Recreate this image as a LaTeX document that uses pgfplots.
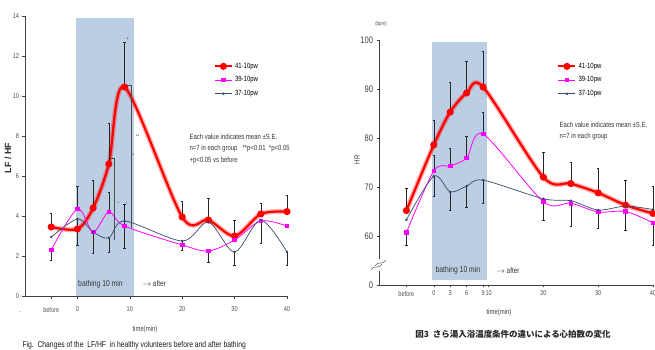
\documentclass[border=0pt]{standalone}
\usepackage{fontspec}
\usepackage{pgfplots}
\pgfplotsset{compat=1.18}
\setmainfont{Liberation Sans}
\newfontfamily\narrow[FakeStretch=0.8]{Liberation Sans}
\newfontfamily\cjk{Noto Sans CJK JP}
\definecolor{shadeblue}{RGB}{188,206,228}
\definecolor{grayblue}{RGB}{55,75,105}
\definecolor{mag}{RGB}{255,0,255}
\pgfplotsset{
  base/.style={scale only axis, clip=false,
    axis x line*=bottom, axis y line*=left,
    axis line style={-, line width=0.6pt, black!75},
    tick style={black!75, line width=0.5pt}, major tick length=2.5bp, tick align=outside,
    /pgf/number format/assume math mode=true,
    tick label style={font=\narrow\fontsize{7}{8}\selectfont, black!70},
    legend style={draw=none, fill=none, anchor=north west,
      font=\narrow\fontsize{7.5}{8}\selectfont, row sep=3bp, inner sep=0pt},
    legend cell align=left,
  },
  redglow/.style={red, opacity=0.3, line width=5bp, smooth, forget plot},
  redline/.style={red, line width=2.2bp, smooth, mark=*, mark size=2.4bp},
  magline/.style={mag, line width=0.8pt, smooth, mark=square*, mark size=1.8bp},
  blueline/.style={grayblue, line width=0.7pt, smooth, mark=*, mark size=0.9bp},
  eplus/.style={draw=none, mark=none, forget plot, error bars/.cd, y dir=plus, y explicit,
    error bar style={draw=black!85, line width=0.45pt},
    error mark options={rotate=90, draw=black!85, mark size=1.2bp, line width=0.4pt}},
  eminus/.style={draw=none, mark=none, forget plot, error bars/.cd, y dir=minus, y explicit,
    error bar style={draw=black!85, line width=0.45pt},
    error mark options={rotate=90, draw=black!85, mark size=1.2bp, line width=0.4pt}},
}
\begin{document}
\begin{tikzpicture}
\path[use as bounding box] (0,0) rectangle (655bp,350bp);
% ---------------- Left chart: LF/HF ----------------
\begin{axis}[base, at={(25bp,54bp)}, anchor=south west, width=262bp, height=280bp,
  xmin=-10, xmax=40, ymin=0, ymax=14,
  ytick={0,2,...,14},
  xtick={-5,0,10,20,30,40}, xticklabels={before,0,10,20,30,40},
  xticklabel style={yshift=-5bp},
  legend style={at={(0.72,0.84)}}]
\fill[shadeblue] (axis cs:-0.3,0) rectangle (axis cs:10.8,13.9);
\addplot[redglow] coordinates {(-5,3.45) (0,3.35) (3,4.4) (6,6.6) (9,10.45) (20,3.95) (25,3.8) (30,3.0) (35,4.1) (40,4.22)};
\addplot[redline] coordinates {(-5,3.45) (0,3.35) (3,4.4) (6,6.6) (9,10.45) (20,3.95) (25,3.8) (30,3.0) (35,4.1) (40,4.22)};
\addplot[magline] coordinates {(-5,2.3) (0,4.35) (3,3.2) (6,4.2) (9,3.5) (20,2.55) (25,2.25) (30,2.8) (35,3.75) (40,3.5)};
\addplot[blueline] coordinates {(-5,2.95) (0,3.85) (3,3.2) (6,2.9) (9,3.75) (20,2.75) (25,3.7) (30,2.2) (35,3.8) (40,2.2)};
\legend{41-10pw,39-10pw,37-10pw}
% error bars
\addplot[eplus] coordinates {(-5,3.45)+-(0,0.7) (3,4.4)+-(0,1.4) (6,6.6)+-(0,2.05) (9,10.45)+-(0,2.25) (20,3.95)+-(0,0.77) (25,3.8)+-(0,1.1) (30,3.0)+-(0,0.77) (35,4.1)+-(0,0.55) (40,4.22)+-(0,0.83)};
\addplot[eplus] coordinates {(0,4.35)+-(0,1.15) (6,4.2)+-(0,1.0) (9,3.5)+-(0,1.1)};
\addplot[eminus] coordinates {(-5,2.3)+-(0,0.5) (3,3.2)+-(0,1.05) (9,3.5)+-(0,1.1) (20,2.55)+-(0,0.25) (25,2.25)+-(0,0.58)};
\addplot[eminus] coordinates {(0,3.85)+-(0,1.3) (6,2.9)+-(0,0.7) (20,2.75)+-(0,0.45) (30,2.2)+-(0,0.65) (35,3.8)+-(0,1.15) (40,2.2)+-(0,0.65)};
% significance brackets
\draw[black!70, line width=0.4pt] (axis cs:6.4,6.9) -- (axis cs:7.0,6.9) -- (axis cs:7.0,2.8);
\draw[black!70, line width=0.4pt] (axis cs:9.4,10.55) -- (axis cs:10.2,10.55) -- (axis cs:10.2,3.4);
\node[font=\narrow\fontsize{5.5}{6}\selectfont, black!70] at (axis cs:11.5,7.95) {**};
\node[font=\narrow\fontsize{5.5}{6}\selectfont, black!70] at (axis cs:10.7,7.0) {*};
\node[font=\narrow\fontsize{5.5}{6}\selectfont, black!70] at (axis cs:9.6,12.85) {+};
\node[font=\narrow\fontsize{5}{5}\selectfont, black!60] at (axis cs:7.8,4.65) {+};
\node[font=\narrow\fontsize{5}{5}\selectfont, black!60] at (axis cs:9.4,4.65) {+};
\node[font=\narrow\fontsize{8.5}{9}\selectfont, black!80] at (axis cs:4.4,0.6) {bathing 10 min};
\node[font=\narrow\fontsize{8}{9}\selectfont, black!80, anchor=west] at (axis cs:11.8,0.6) {$\rightarrow$ after};
\end{axis}
\node[font=\narrow\fontsize{6}{7}\selectfont, black!60] at (20bp,37bp) {-};
\node[rotate=90, font=\bfseries\fontsize{9}{10}\selectfont, black!85] at (8bp,192bp) {LF / HF};
\node[font=\narrow\fontsize{7.5}{8}\selectfont, black!75] at (145bp,20bp) {time(min)};
\node[font=\narrow\fontsize{8.5}{9}\selectfont, anchor=west, black!90] at (19bp,5bp) {Fig.\ \ Changes of the\ \ LF/HF\ \ in healthy volunteers before and after bathing};
\node[font=\narrow\fontsize{7.5}{8}\selectfont, anchor=west, black!80] at (186bp,213bp) {Each value indicates mean ±S.E.};
\node[font=\narrow\fontsize{7.5}{8}\selectfont, anchor=west, black!80] at (186bp,201bp) {n=7 in each group\ \ \ **p<0.01\ \ *p<0.05};
\node[font=\narrow\fontsize{7.5}{8}\selectfont, anchor=west, black!80] at (186bp,189bp) {+p<0.05 vs before};
% ---------------- Right chart: HR ----------------
\begin{axis}[base, at={(379bp,65bp)}, anchor=south west, width=274bp, height=245bp,
  xmin=-10, xmax=40, ymin=50, ymax=100,
  ytick={50,60,...,100}, yticklabels={0,60,70,80,90,100},
  yticklabel style={font=\narrow\fontsize{9.5}{10}\selectfont, black!75},
  xtick={-5,0,3,6,9,10,20,30,40}, xticklabels={before,0,3,6,9,10,20,30,40},
  legend style={at={(0.65,0.915)}}]
\fill[shadeblue] (axis cs:-0.3,51) rectangle (axis cs:9.7,99.6);
\addplot[redglow] coordinates {(-5,65.2) (0,78.6) (3,85.3) (6,89.2) (9,90.4) (20,72) (25,70.7) (30,68.8) (35,66.3) (40,64.6)};
\addplot[redline] coordinates {(-5,65.2) (0,78.6) (3,85.3) (6,89.2) (9,90.4) (20,72) (25,70.7) (30,68.8) (35,66.3) (40,64.6)};
\addplot[magline] coordinates {(-5,60.7) (0,73.3) (3,74.3) (6,75.9) (9,80.8) (20,67) (25,66.7) (30,64.9) (35,65) (40,62.7)};
\addplot[blueline] coordinates {(-5,63.3) (0,72.2) (3,69) (6,70.2) (9,71.4) (20,67.6) (25,67.2) (30,65.3) (35,66.1) (40,65.4)};
\legend{41-10pw,39-10pw,37-10pw}
\addplot[eplus] coordinates {(-5,65.2)+-(0,4.6) (0,78.6)+-(0,5) (3,85.3)+-(0,6) (6,89.2)+-(0,6.4) (9,90.4)+-(0,7.4) (20,72)+-(0,5) (25,70.7)+-(0,4.3) (30,68.8)+-(0,5) (35,66.3)+-(0,5.1) (40,64.6)+-(0,5.5)};
\addplot[eplus] coordinates {(0,73.3)+-(0,3.2) (3,74.3)+-(0,3.7) (6,75.9)+-(0,4.4) (9,80.8)+-(0,4.4)};
\addplot[eminus] coordinates {(-5,60.7)+-(0,2.5) (20,67)+-(0,3.7) (25,66.7)+-(0,4.8) (30,64.9)+-(0,3.3) (35,65)+-(0,3.8) (40,62.7)+-(0,4.5)};
\addplot[eminus] coordinates {(0,72.2)+-(0,4) (3,69)+-(0,3.7) (6,70.2)+-(0,4.3) (9,71.4)+-(0,4.7)};
\node[font=\narrow\fontsize{8.5}{9}\selectfont, black!80] at (axis cs:4.4,52.9) {bathing 10 min};
\node[font=\narrow\fontsize{8}{9}\selectfont, black!80, anchor=west] at (axis cs:10.8,52.9) {$\rightarrow$ after};
\end{axis}
% axis break
\fill[white] (372bp,79bp) rectangle (386bp,91bp);
\draw[black!70, line width=0.5pt] (371bp,80bp) .. controls (375bp,86bp) and (378bp,80bp) .. (382bp,86bp);
\draw[black!70, line width=0.5pt] (375bp,84bp) .. controls (379bp,90bp) and (382bp,84bp) .. (386bp,90bp);
\node[font=\narrow\fontsize{5.5}{6}\selectfont, black!70] at (381bp,326bp) {(bpm)};
\node[rotate=90, font=\narrow\fontsize{7.5}{8}\selectfont, black!80] at (357bp,190bp) {HR};
\node[font=\narrow\fontsize{7.5}{8}\selectfont, black!75] at (499bp,37bp) {time(min)};
\node[font=\cjk\bfseries\fontsize{8.5}{9}\selectfont, black!85] at (513bp,16bp) {図3\ \ さら湯入浴温度条件の違いによる心拍数の変化};
\node[font=\narrow\fontsize{7.5}{8}\selectfont, anchor=west, black!80] at (556bp,225bp) {Each value indicates mean ±S.E.};
\node[font=\narrow\fontsize{7.5}{8}\selectfont, anchor=west, black!80] at (556bp,213bp) {n=7 in each group};
\end{tikzpicture}
\end{document}
